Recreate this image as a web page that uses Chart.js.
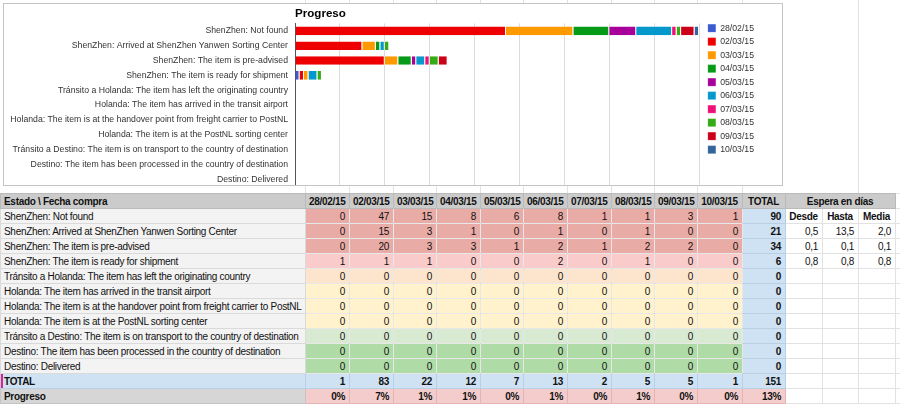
<!DOCTYPE html>
<html>
<head>
<meta charset="utf-8">
<script src="https://cdn.jsdelivr.net/npm/chart.js@4.4.1/dist/chart.umd.min.js"></script>
<style>
  html, body { margin: 0; padding: 0; background: #fff; }
  body { width: 900px; height: 408px; position: relative; overflow: hidden; font-family: "Liberation Sans", Arial, sans-serif; }
  .vline { position: absolute; top: 0; width: 1px; height: 193px; background: #e2e2e2; }
  #chartBox { position: absolute; left: 3px; top: 3px; width: 778px; height: 181px; border: 1px solid #c4c4c4; background: #fff; overflow: hidden; }
  #chartBox canvas { display: block; }
  #grid { position: absolute; left: 0; top: 193px; width: 900px; border-collapse: collapse; table-layout: fixed; font-size: 10px; letter-spacing: -0.3px; color: #111; }
  #grid tr { height: 15px; }
  #grid td { padding: 0 4px 0 3px; border: 1px solid rgba(0,0,0,0.09); white-space: nowrap; overflow: hidden; line-height: 13px; text-align: right; }
  #grid td.l { text-align: left; }
  #grid td.c { text-align: center; }
  #grid td.b { font-weight: bold; }
  #grid tr.hdr td { background: #cbcbcb; border-color: #bababa; }
  #grid tr.hdr td.blank { background: #fff; border-color: #e2e2e2; }
  #grid td.lab { background: #f3f3f3; border-color: #dadada; }
  #grid td.tot { background: #cfe2f3; font-weight: bold; border-color: #b9cfe4; }
  #grid td.w { background: #fff; border-color: #e2e2e2; }
</style>
</head>
<body>
<div id="lines"></div>
<div id="chartBox"><canvas id="chart" width="778" height="195"></canvas></div>
<table id="grid">
  <colgroup>
    <col style="width:305px"><col style="width:44px"><col style="width:44px"><col style="width:43px"><col style="width:44px"><col style="width:43px"><col style="width:44px"><col style="width:44px"><col style="width:43px"><col style="width:43px"><col style="width:45px"><col style="width:43px"><col style="width:37px"><col style="width:36px"><col style="width:37px"><col style="width:5px">
  </colgroup>
</table>
<script>
const categories = [
  "ShenZhen: Not found",
  "ShenZhen: Arrived at ShenZhen Yanwen Sorting Center",
  "ShenZhen: The item is pre-advised",
  "ShenZhen: The item is ready for shipment",
  "Tránsito a Holanda: The item has left the originating country",
  "Holanda: The item has arrived in the transit airport",
  "Holanda: The item is at the handover point from freight carrier to PostNL",
  "Holanda: The item is at the PostNL sorting center",
  "Tránsito a Destino: The item is on transport to the country of destination",
  "Destino: The item has been processed in the country of destination",
  "Destino: Delivered"
];

const dates = ["28/02/15", "02/03/15", "03/03/15", "04/03/15", "05/03/15", "06/03/15", "07/03/15", "08/03/15", "09/03/15", "10/03/15"];

// one array per purchase date, one value per state
const v28_02 = [0, 0, 0, 1, 0, 0, 0, 0, 0, 0, 0];
const v02_03 = [47, 15, 20, 1, 0, 0, 0, 0, 0, 0, 0];
const v03_03 = [15, 3, 3, 1, 0, 0, 0, 0, 0, 0, 0];
const v04_03 = [8, 1, 3, 0, 0, 0, 0, 0, 0, 0, 0];
const v05_03 = [6, 0, 1, 0, 0, 0, 0, 0, 0, 0, 0];
const v06_03 = [8, 1, 2, 2, 0, 0, 0, 0, 0, 0, 0];
const v07_03 = [1, 0, 1, 0, 0, 0, 0, 0, 0, 0, 0];
const v08_03 = [1, 1, 2, 1, 0, 0, 0, 0, 0, 0, 0];
const v09_03 = [3, 0, 2, 0, 0, 0, 0, 0, 0, 0, 0];
const v10_03 = [1, 0, 0, 0, 0, 0, 0, 0, 0, 0, 0];
const seriesValues = [v28_02, v02_03, v03_03, v04_03, v05_03, v06_03, v07_03, v08_03, v09_03, v10_03];

const progreso = ["0%", "7%", "1%", "1%", "0%", "1%", "0%", "1%", "0%", "0%", "13%"];
const esperaHeads = ["Desde", "Hasta", "Media"];
const desde = ["0,5", "0,1", "0,8"];
const hasta = ["13,5", "0,1", "0,8"];
const media = ["2,0", "0,1", "0,8"];

const seriesColors = ["#3a5bcf", "#ee0000", "#ff9900", "#069a18", "#a8009a", "#0598cc", "#ee1177", "#35ac15", "#cc0018", "#33649a"];
const rowFills = ["#e9aba5", "#e9aba5", "#e9aba5", "#f9cbcb", "#fde5cd", "#fff2cc", "#fff2cc", "#fff2cc", "#d9ead3", "#aedba6", "#aedba6"];

// spreadsheet column lines peeking out around the chart
[305, 349, 393, 436, 480, 523, 567, 611, 654, 697, 742, 858].forEach(x => {
  const d = document.createElement("div");
  d.className = "vline";
  d.style.left = x + "px";
  document.getElementById("lines").appendChild(d);
});

// ---- table ----
const tbl = document.getElementById("grid");

function cell(tr, text, cls, bg) {
  const td = document.createElement("td");
  td.textContent = text;
  if (cls) td.className = cls;
  if (bg) td.style.background = bg;
  tr.appendChild(td);
  return td;
}

let tr = tbl.insertRow();
tr.className = "hdr";
cell(tr, "Estado \\ Fecha compra", "l b");
dates.forEach(d => cell(tr, d, "c b"));
cell(tr, "TOTAL", "c b");
cell(tr, "Espera en días", "c b").colSpan = 3;
cell(tr, "", "blank");

const colTotals = dates.map((d, j) => seriesValues[j].reduce((a, b) => a + b, 0));

categories.forEach((cat, i) => {
  const row = tbl.insertRow();
  cell(row, cat, "l lab");
  let sum = 0;
  seriesValues.forEach(vals => {
    sum += vals[i];
    cell(row, vals[i], "", rowFills[i]);
  });
  cell(row, sum, "tot");
  if (i === 0) {
    esperaHeads.forEach(h => cell(row, h, "c b w"));
  } else if (i <= 3) {
    cell(row, desde[i - 1], "w");
    cell(row, hasta[i - 1], "w");
    cell(row, media[i - 1], "w");
  } else {
    for (let k = 0; k < 3; k++) cell(row, "", "w");
  }
  cell(row, "", "w");
});

tr = tbl.insertRow();
const totLab = cell(tr, "TOTAL", "l b tot");
totLab.style.boxShadow = "inset 2px 0 #e0218a";
colTotals.forEach(t => cell(tr, t, "tot"));
cell(tr, colTotals.reduce((a, b) => a + b, 0), "tot");
for (let k = 0; k < 4; k++) cell(tr, "", "w");

tr = tbl.insertRow();
const progLab = cell(tr, "Progreso", "l b", "#d6d6d6");
progLab.style.borderColor = "#c4c4c4";
progreso.forEach(p => {
  const td = cell(tr, p, "b", "#f4cccc");
  td.style.borderColor = "#e6b3b3";
});
for (let k = 0; k < 4; k++) cell(tr, "", "w");

// ---- chart ----
const LEGEND_SHIFT_X = 4;
const LEGEND_SHIFT_Y = 15;

const legendNudge = {
  id: "legendNudge",
  afterLayout(chart) {
    chart.legend.left += LEGEND_SHIFT_X;
    chart.legend.top += LEGEND_SHIFT_Y;
  }
};

const chart = new Chart(document.getElementById("chart"), {
  type: "bar",
  data: {
    labels: categories,
    datasets: dates.map((d, i) => ({
      label: d,
      data: seriesValues[i],
      backgroundColor: seriesColors[i],
      borderColor: "rgba(255,255,255,0.55)",
      borderWidth: { right: 1, left: 0, top: 0, bottom: 0 },
      borderSkipped: false,
      barPercentage: 0.58,
      categoryPercentage: 1
    }))
  },
  options: {
    indexAxis: "y",
    responsive: false,
    animation: false,
    layout: { padding: { top: 0, left: 0, right: 22, bottom: 0 } },
    scales: {
      x: {
        stacked: true,
        min: 0,
        max: 90,
        ticks: { display: false, stepSize: 10 },
        grid: { color: "#dcdcdc", drawTicks: false },
        border: { display: false }
      },
      y: {
        stacked: true,
        grid: { display: false, drawTicks: false },
        border: { display: true, color: "#555" },
        ticks: { color: "#333", autoSkip: false, padding: 7, font: { family: "Liberation Sans", size: 8.7 } },
        afterFit: s => { s.width = 291; }
      }
    },
    plugins: {
      title: {
        display: true,
        text: "Progreso",
        align: "start",
        fullSize: false,
        color: "#000",
        font: { family: "Liberation Sans", size: 11.6, weight: "bold" },
        padding: { top: 3, bottom: 2.5 }
      },
      legend: {
        position: "right",
        align: "start",
        labels: {
          boxWidth: 8,
          boxHeight: 8,
          padding: 4.8,
          color: "#333",
          font: { family: "Liberation Sans", size: 8.7 }
        }
      },
      tooltip: { enabled: false }
    }
  },
  plugins: [legendNudge]
});
</script>
</body>
</html>
